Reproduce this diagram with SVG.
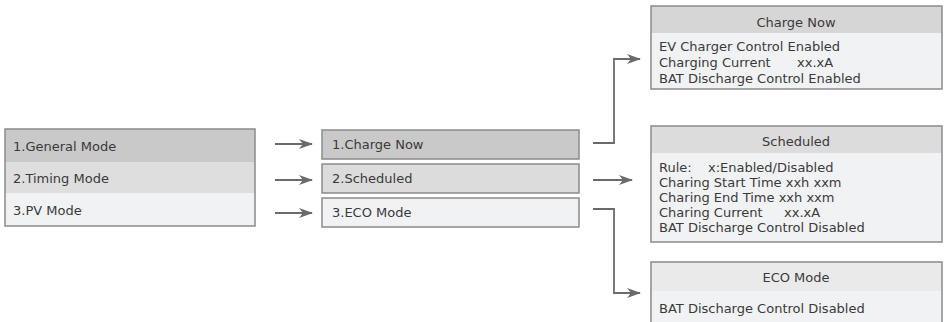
<svg xmlns="http://www.w3.org/2000/svg" width="944" height="322" viewBox="0 0 944 322">
<defs>
<style>
.t{font-family:"DejaVu Sans","Noto Sans",sans-serif;font-size:13px;fill:#3a3a3a}
.box{stroke:#8a8a8a;stroke-width:1.5}
.ln{stroke:#6a6a6a;stroke-width:1.8;fill:none}
</style>
<marker id="ah" viewBox="0 0 14 10" refX="13" refY="5" markerWidth="14" markerHeight="10" markerUnits="userSpaceOnUse" orient="auto">
<path d="M0,0 L14,5 L0,10 L4,5 Z" fill="#6a6a6a"/>
</marker>
</defs>
<rect width="944" height="322" fill="#fff"/>
<g id="mode-menu">
<rect x="5" y="129" width="250" height="33" fill="#c9c9c9"/>
<rect x="5" y="162" width="250" height="31" fill="#dedede"/>
<rect x="5" y="193" width="250" height="33" fill="#f1f2f4"/>
<rect class="box" x="5" y="129" width="250" height="97" fill="none"/>
<text class="t" x="13" y="151">1.General Mode</text>
<text class="t" x="13" y="183">2.Timing Mode</text>
<text class="t" x="13" y="215">3.PV Mode</text>
</g>
<g id="charge-now-item">
<rect class="box" x="322" y="130" width="257" height="29" fill="#c9c9c9"/>
<text class="t" x="332" y="149">1.Charge Now</text>
</g>
<g id="scheduled-item">
<rect class="box" x="322" y="164" width="257" height="29" fill="#dcdcdc"/>
<text class="t" x="332" y="183">2.Scheduled</text>
</g>
<g id="eco-item">
<rect class="box" x="322" y="198" width="257" height="29" fill="#f1f2f4"/>
<text class="t" x="332" y="217">3.ECO Mode</text>
</g>
<g id="charge-now-panel">
<rect x="651" y="6" width="291" height="27" fill="#d6d6d6"/>
<rect x="651" y="33" width="291" height="56" fill="#f1f2f4"/>
<rect class="box" x="651" y="6" width="291" height="83" fill="none"/>
<text class="t" x="796" y="27" text-anchor="middle">Charge Now</text>
<text class="t" x="659" y="51">EV Charger Control Enabled</text>
<text class="t" x="659" y="67">Charging Current <tspan x="797">xx.xA</tspan></text>
<text class="t" x="659" y="83">BAT Discharge Control Enabled</text>
</g>
<g id="scheduled-panel">
<rect x="651" y="126" width="291" height="27" fill="#dcdcdc"/>
<rect x="651" y="153" width="291" height="89" fill="#f1f2f4"/>
<rect class="box" x="651" y="126" width="291" height="116" fill="none"/>
<text class="t" x="796" y="146" text-anchor="middle">Scheduled</text>
<text class="t" x="659" y="172">Rule: <tspan x="708">x:Enabled/Disabled</tspan></text>
<text class="t" x="659" y="187">Charing Start Time xxh xxm</text>
<text class="t" x="659" y="202">Charing End Time  xxh xxm</text>
<text class="t" x="659" y="217">Charing Current <tspan x="784">xx.xA</tspan></text>
<text class="t" x="659" y="232">BAT Discharge Control Disabled</text>
</g>
<g id="eco-panel">
<rect x="651" y="262" width="291" height="29" fill="#eaeaea"/>
<rect x="651" y="291" width="291" height="40" fill="#f1f2f4"/>
<rect class="box" x="651" y="262" width="291" height="69" fill="none"/>
<text class="t" x="796" y="282" text-anchor="middle">ECO Mode</text>
<text class="t" x="659" y="313">BAT Discharge Control Disabled</text>
</g>
<g id="connectors">
<line class="ln" x1="275" y1="144" x2="312" y2="144" marker-end="url(#ah)"/>
<line class="ln" x1="275" y1="180" x2="312" y2="180" marker-end="url(#ah)"/>
<line class="ln" x1="275" y1="213" x2="312" y2="213" marker-end="url(#ah)"/>
<polyline class="ln" points="593,143 614,143 614,59 640,59" marker-end="url(#ah)"/>
<line class="ln" x1="593" y1="180" x2="632" y2="180" marker-end="url(#ah)"/>
<polyline class="ln" points="593,209 614,209 614,293 640,293" marker-end="url(#ah)"/>
</g>
</svg>
